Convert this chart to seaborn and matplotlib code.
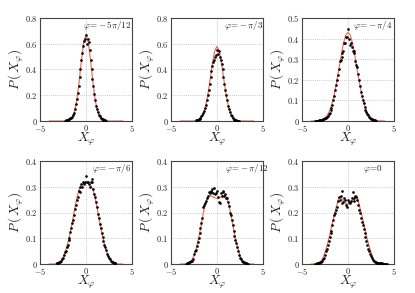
import numpy as np
import pandas as pd
import matplotlib
matplotlib.use("Agg")
import matplotlib.pyplot as plt
import seaborn as sns
from matplotlib.ticker import FuncFormatter, FixedLocator

# ---------------- data ----------------
PHASE_LABELS = [r"$\varphi\!=\!-5\pi/12$", r"$\varphi\!=\!-\pi/3$", r"$\varphi\!=\!-\pi/4$",
                r"$\varphi\!=\!-\pi/6$", r"$\varphi\!=\!-\pi/12$", r"$\varphi\!=\!0$"]
Y_MAX = [0.8, 0.8, 0.5, 0.4, 0.4, 0.4]
Y_STEP = [0.2, 0.2, 0.1, 0.1, 0.1, 0.1]
X_TICKS = [-5, 0, 5]

# theory curve sample positions
CURVE_X = [-4.0, -3.75, -3.5, -3.25, -3.0, -2.75, -2.5, -2.25, -2.0, -1.75, -1.5, -1.25, -1.0,
           -0.75, -0.5, -0.25, 0.0, 0.25, 0.5, 0.75, 1.0, 1.25, 1.5, 1.75, 2.0, 2.25, 2.5,
           2.75, 3.0, 3.25, 3.5, 3.75, 4.0]
CURVE_1 = [0, 0, 0, 0, 0, 0, 0.0001, 0.0005, 0.0024, 0.0089, 0.028, 0.074, 0.163, 0.303, 0.471,
           0.613, 0.67, 0.613, 0.471, 0.303, 0.163, 0.074, 0.028, 0.0089, 0.0024, 0.0005,
           0.0001, 0, 0, 0, 0, 0, 0]
CURVE_2 = [0, 0, 0, 0, 0.0001, 0.0002, 0.0008, 0.0028, 0.0085, 0.0228, 0.054, 0.111, 0.202,
           0.320, 0.445, 0.543, 0.58, 0.543, 0.445, 0.320, 0.202, 0.111, 0.054, 0.0228, 0.0085,
           0.0028, 0.0008, 0.0002, 0.0001, 0, 0, 0, 0]
CURVE_3 = [0, 0.0002, 0.0006, 0.0014, 0.0033, 0.0072, 0.0147, 0.0279, 0.0495, 0.0822, 0.1275,
           0.185, 0.250, 0.317, 0.376, 0.416, 0.43, 0.416, 0.376, 0.317, 0.250, 0.185, 0.1275,
           0.0822, 0.0495, 0.0279, 0.0147, 0.0072, 0.0033, 0.0014, 0.0006, 0.0002, 0]
CURVE_4 = [0, 0, 0.0003, 0.0015, 0.005, 0.012, 0.026, 0.048, 0.078, 0.115, 0.16, 0.21, 0.255,
           0.29, 0.305, 0.313, 0.315, 0.313, 0.305, 0.29, 0.255, 0.21, 0.16, 0.115, 0.078,
           0.048, 0.026, 0.012, 0.005, 0.0015, 0.0003, 0, 0]
CURVE_5 = [0, 0, 0.0003, 0.0015, 0.005, 0.014, 0.032, 0.062, 0.10, 0.145, 0.195, 0.235, 0.262,
           0.266, 0.262, 0.257, 0.255, 0.257, 0.262, 0.266, 0.262, 0.235, 0.195, 0.145, 0.10,
           0.062, 0.032, 0.014, 0.005, 0.0015, 0.0003, 0, 0]
CURVE_6 = [0, 0, 0.001, 0.003, 0.008, 0.02, 0.045, 0.075, 0.11, 0.15, 0.19, 0.225, 0.258,
           0.256, 0.245, 0.236, 0.232, 0.236, 0.245, 0.256, 0.265, 0.225, 0.19, 0.15, 0.11,
           0.075, 0.045, 0.02, 0.008, 0.003, 0.001, 0, 0]
CURVES = [CURVE_1, CURVE_2, CURVE_3, CURVE_4, CURVE_5, CURVE_6]

# measured histogram bins (shared) and measured values per panel
BINS = [-3.6, -3.5, -3.4, -3.3, -3.2, -3.1, -3.0, -2.9, -2.8, -2.7, -2.6, -2.5, -2.4, -2.3,
        -2.2, -2.1, -2.0, -1.9, -1.8, -1.7, -1.6, -1.5, -1.4, -1.3, -1.2, -1.1, -1.0, -0.9,
        -0.8, -0.7, -0.6, -0.5, -0.4, -0.3, -0.2, -0.1, 0.0, 0.1, 0.2, 0.3, 0.4, 0.5, 0.6,
        0.7, 0.8, 0.9, 1.0, 1.1, 1.2, 1.3, 1.4, 1.5, 1.6, 1.7, 1.8, 1.9, 2.0, 2.1, 2.2, 2.3,
        2.4, 2.5, 2.6, 2.7, 2.8, 2.9, 3.0, 3.1, 3.2, 3.3, 3.4, 3.5, 3.6, 3.7, 3.8, 3.9, 4.0,
        4.1, 4.2, 4.3, 4.4]
DOTS_START = [-2.3, -2.3, -3.6, -3.2, -3.4, -3.6]
DOTS_1 = [.002, .004, .006, .008, .012, .015, .02, .025, .032, .045, .06, .09, .13, .17, .22,
          .27, .34, .40, .47, .53, .58, .62, .64, .67, .60, .64, .61, .55, .47, .40, .33, .27,
          .21, .16, .12, .09, .07, .05, .035, .025, .018, .012, .008, .006, .004, .002]
DOTS_2 = [.004, .006, .008, .012, .018, .025, .035, .045, .06, .08, .10, .125, .16, .20, .24,
          .29, .34, .39, .43, .46, .47, .50, .51, .55, .52, .54, .50, .47, .44, .40, .34, .29,
          .24, .20, .16, .12, .09, .07, .05, .035, .025, .017, .011, .007, .005, .003, .002,
          .001]
DOTS_3 = [.001, .001, .002, .002, .002, .003, .004, .005, .006, .008, .010, .013, .016, .020,
          .026, .033, .040, .053, .063, .08, .10, .12, .15, .175, .20, .225, .25, .29, .295,
          .31, .33, .34, .38, .38, .41, .41, .445, .40, .37, .38, .36, .34, .34, .33, .29, .27,
          .26, .23, .20, .17, .14, .12, .10, .085, .07, .055, .045, .035, .027, .02, .015,
          .011, .008, .006, .004, .003, .002]
DOTS_4 = [.002, .003, .004, .006, .008, .013, .02, .025, .035, .045, .05, .065, .075, .095,
          .10, .125, .14, .16, .17, .19, .215, .23, .25, .26, .285, .28, .30, .31, .30, .32,
          .31, .32, .34, .32, .32, .31, .30, .32, .33, .32, .29, .27, .26, .24, .22, .195, .18,
          .155, .14, .12, .105, .09, .075, .065, .055, .04, .03, .022, .018, .012, .008, .006,
          .004, .003, .002]
DOTS_5 = [.001, .002, .003, .005, .007, .009, .012, .013, .02, .04, .05, .055, .07, .085, .10,
          .12, .14, .16, .18, .22, .23, .235, .245, .255, .265, .28, .275, .285, .28, .29, .275,
          .295, .27, .275, .285, .26, .24, .235, .275, .265, .285, .28, .265, .27, .255, .255,
          .24, .225, .20, .19, .17, .15, .13, .11, .095, .08, .065, .05, .035, .025, .018,
          .012, .008, .006, .004, .003, .002, .001, .001]
DOTS_6 = [.001, .001, .002, .002, .003, .004, .006, .008, .012, .018, .025, .035, .05, .06,
          .075, .09, .105, .12, .13, .15, .17, .19, .20, .21, .22, .245, .26, .25, .265, .235,
          .285, .24, .255, .25, .23, .22, .25, .24, .235, .245, .255, .28, .245, .255, .265,
          .26, .25, .23, .21, .20, .18, .165, .15, .135, .12, .105, .09, .075, .06, .05, .04,
          .03, .022, .015, .01, .008, .006, .005, .004, .003, .003, .002, .002, .002, .001,
          .001, .001, .001, .001]
DOTS = [DOTS_1, DOTS_2, DOTS_3, DOTS_4, DOTS_5, DOTS_6]

# ---------------- layout / style ----------------
W_PX, H_PX = 415, 293
COL_LEFT_PX = [40, 171, 302]
ROW_TOP_PX = [18, 161]
AX_W_PX, AX_H_PX = 92, 103
LABEL_X = [-0.3, 0.75, 0.55, 0.7, 0.85, 1.6]

sns.set_style("white")
plt.rcParams["mathtext.fontset"] = "cm"
plt.rcParams["font.family"] = ["DejaVu Serif"]

RED = "#f06a5a"

fig = plt.figure(figsize=(W_PX / 100, H_PX / 100), dpi=100)


def fmt(v, _):
    if abs(v) < 1e-9:
        return r"$0$"
    s = f"{v:g}"
    return "$" + s + "$"


for i in range(6):
    r, c = divmod(i, 3)
    left = COL_LEFT_PX[c] / W_PX
    bottom = 1 - (ROW_TOP_PX[r] + AX_H_PX) / H_PX
    ax = fig.add_axes([left, bottom, AX_W_PX / W_PX, AX_H_PX / H_PX])

    curve = pd.DataFrame({"x": CURVE_X, "y": CURVES[i]})
    start_idx = int(np.argmin(np.abs(np.array(BINS) - DOTS_START[i])))
    xs = BINS[start_idx:start_idx + len(DOTS[i])]
    dots = pd.DataFrame({"x": xs, "y": DOTS[i]})

    sns.lineplot(data=curve, x="x", y="y", ax=ax, color=RED, lw=0.85, zorder=2)
    sns.scatterplot(data=dots, x="x", y="y", ax=ax, color="black", s=3.6, linewidth=0,
                    zorder=3)

    ax.set_xlim(-5, 5)
    ax.set_ylim(0, Y_MAX[i])
    yt = np.round(np.arange(0, Y_MAX[i] + 1e-9, Y_STEP[i]), 2)
    ax.yaxis.set_major_locator(FixedLocator(yt))
    ax.xaxis.set_major_locator(FixedLocator(X_TICKS))
    ax.xaxis.set_major_formatter(FuncFormatter(fmt))
    ax.yaxis.set_major_formatter(FuncFormatter(fmt))
    ax.tick_params(axis="x", length=0, pad=1.2, labelsize=6, colors="#222222")
    ax.tick_params(axis="y", length=0, pad=1.8, labelsize=6, colors="#222222")
    ax.grid(True, linestyle=(0, (1, 1.5)), color="#b8b8b8", lw=0.6)
    for sp in ax.spines.values():
        sp.set_color("#444444")
        sp.set_linewidth(0.8)
    ax.set_xlabel(r"$X_{\varphi}$", fontsize=9.5)
    ax.set_ylabel(r"$P\,(\,X_{\varphi})$", fontsize=9.5)
    ax.xaxis.set_label_coords(0.5, -0.1)
    ax.yaxis.set_label_coords(-0.15, 0.5)
    ax.text(LABEL_X[i], Y_MAX[i] * 0.925, PHASE_LABELS[i], fontsize=6.5, ha="left",
            va="center", color="#222222")

fig.savefig("out.png", dpi=100)
